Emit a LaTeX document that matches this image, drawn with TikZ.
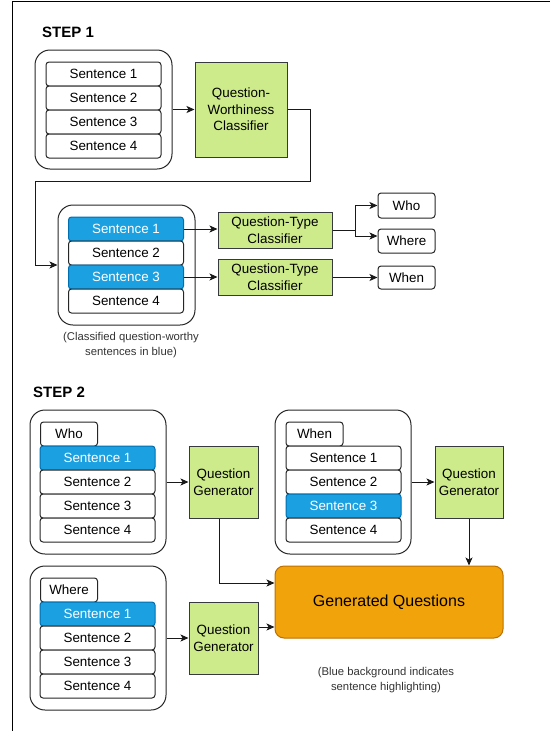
\documentclass[tikz,border=0pt]{standalone}
\usepackage{fontspec}
\setmainfont{Liberation Sans}
\usetikzlibrary{arrows.meta}
\definecolor{hlblue}{HTML}{1BA1E2}
\definecolor{hlblueb}{HTML}{006EAF}
\definecolor{grn}{HTML}{CDEB8B}
\definecolor{grnb}{HTML}{36393D}
\definecolor{orng}{HTML}{F0A30A}
\definecolor{orngb}{HTML}{BD7000}
\definecolor{capgray}{HTML}{333333}
\tikzset{
  base/.style={font=\fontsize{13.4}{16.7}\selectfont, inner sep=0pt, align=center},
  sent/.style={base, draw=black!85, fill=white, rounded corners=3pt, minimum width=115pt, minimum height=24pt, line width=1pt},
  hsent/.style={sent, draw=hlblueb, fill=hlblue, text=white},
  lab/.style={sent, minimum width=57pt},
  outer/.style={draw=black!85, rounded corners=15pt, line width=1pt, inner sep=0pt},
  proc/.style={base, draw=grnb, fill=grn, line width=1pt},
  gq/.style={base, font=\fontsize{16}{19}\selectfont, draw=orngb, fill=orng, rounded corners=9pt, line width=1pt},
  arr/.style={-{Stealth[length=8pt,width=7pt,inset=2pt]}, line width=1pt, black!90},
  captext/.style={font=\fontsize{11.3}{15}\selectfont, text=capgray, align=center, inner sep=0pt},
  steplabel/.style={font=\fontsize{15}{18}\selectfont\bfseries, inner sep=0pt, anchor=west},
}
\begin{document}
\begin{tikzpicture}[x=1pt,y=-1pt]
\useasboundingbox (0,0) rectangle (550,731);
% frame
\draw[line width=1pt] (12.5,731) -- (12.5,1.5) -- (550,1.5);

% STEP 1
\node[steplabel] (step1) at (42,32.5) {STEP 1};
\node[outer, minimum width=137pt, minimum height=119pt] (o1) at (103.5,109.5) {};
\node[sent] (a1) at (103.5,74) {Sentence 1};
\node[sent] (a2) at (103.5,98) {Sentence 2};
\node[sent] (a3) at (103.5,122) {Sentence 3};
\node[sent] (a4) at (103.5,146) {Sentence 4};
\node[proc, minimum width=92pt, minimum height=95pt] (qw) at (241,109.5) {Question-\\Worthiness\\Classifier};
\draw[arr] (o1.east) -- (o1.east -| qw.west);

\node[outer, minimum width=137pt, minimum height=120pt] (o2) at (126.5,265) {};
\node[hsent] (b1) at (126,229) {Sentence 1};
\node[sent] (b2) at (126,253) {Sentence 2};
\node[hsent] (b3) at (126,277) {Sentence 3};
\node[sent] (b4) at (126,301) {Sentence 4};
\coordinate (t1) at (310,181);
\coordinate (t2) at (35,181);
\draw[arr] (qw.east) -| (t1) -- (t2) |- (o2.west);

\node[proc, minimum width=114pt, minimum height=36pt] (qt1) at (275,230) {Question-Type\\Classifier};
\node[proc, minimum width=114pt, minimum height=36pt] (qt2) at (275,277.5) {Question-Type\\Classifier};
\draw[arr] (b1.east) -- (b1.east -| qt1.west);
\draw[arr] (b3.east) -- (b3.east -| qt2.west);

\node[lab, minimum height=25pt] (who) at (406.5,205.5) {Who};
\node[lab] (where) at (406.5,241) {Where};
\node[lab, minimum height=23pt] (when) at (406.5,277.5) {When};
\coordinate (sp) at (355,230);
\coordinate (spw) at (355,236);
\draw[line width=1pt, black!90] (qt1.east) -- (sp);
\draw[arr] (sp) |- (who.west);
\draw[arr] (sp) -- (spw) -- (spw -| where.west);
\draw[arr] (qt2.east) -- (qt2.east -| when.west);

\node[captext] (cap1) at (131,345) {(Classified question-worthy\\sentences in blue)};

% STEP 2
\node[steplabel] (step2) at (33,392.5) {STEP 2};

% Who group
\node[outer, minimum width=136pt, minimum height=144pt] (g1) at (98,482) {};
\node[lab] (l1) at (69,434) {Who};
\node[hsent] (c1) at (97.5,458) {Sentence 1};
\node[sent] (c2) at (97.5,482) {Sentence 2};
\node[sent] (c3) at (97.5,506) {Sentence 3};
\node[sent] (c4) at (97.5,530) {Sentence 4};
\node[proc, minimum width=69pt, minimum height=72pt] (qg1) at (223.5,482) {Question\\Generator};
\draw[arr] (g1.east) -- (g1.east -| qg1.west);

% When group
\node[outer, minimum width=136pt, minimum height=144pt] (g2) at (343,482) {};
\node[lab] (l2) at (314.5,434) {When};
\node[sent] (d1) at (343.5,458) {Sentence 1};
\node[sent] (d2) at (343.5,482) {Sentence 2};
\node[hsent] (d3) at (343.5,506) {Sentence 3};
\node[sent] (d4) at (343.5,530) {Sentence 4};
\node[proc, minimum width=68pt, minimum height=72pt] (qg2) at (469,482) {Question\\Generator};
\draw[arr] (g2.east) -- (g2.east -| qg2.west);

% Generated questions
\node[gq, minimum width=228pt, minimum height=72pt] (gen) at (389,602) {Generated Questions};
\draw[arr] (qg2.south) -- (qg2.south |- gen.north);
\draw[arr] ([xshift=-4.5pt]qg1.south) |- ([yshift=19pt]gen.west);

% Where group
\node[outer, minimum width=136pt, minimum height=144pt] (g3) at (98,638) {};
\node[lab] (l3) at (69,590) {Where};
\node[hsent] (e1) at (97.5,614) {Sentence 1};
\node[sent] (e2) at (97.5,638) {Sentence 2};
\node[sent] (e3) at (97.5,662) {Sentence 3};
\node[sent] (e4) at (97.5,686) {Sentence 4};
\node[proc, minimum width=69pt, minimum height=72pt] (qg3) at (223.5,638) {Question\\Generator};
\draw[arr] (g3.east) -- (g3.east -| qg3.west);
\draw[arr] ([yshift=11pt]qg3.east) -- ([yshift=11pt]qg3.east -| gen.west);

\node[captext] (cap2) at (386,680) {(Blue background indicates\\sentence highlighting)};
\end{tikzpicture}
\end{document}
